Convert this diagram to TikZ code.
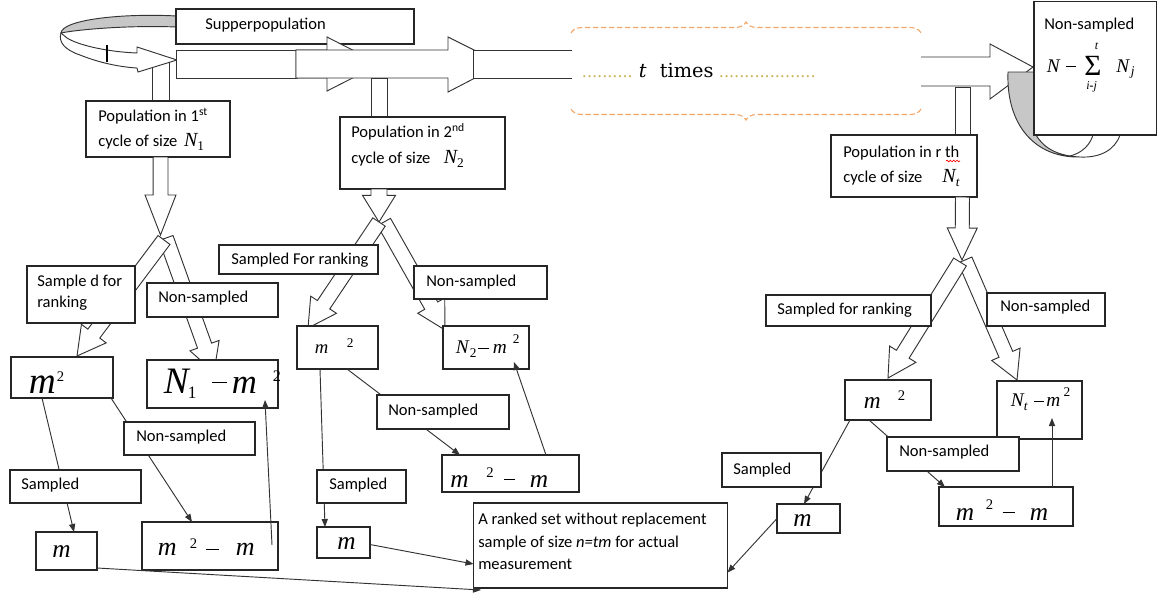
\documentclass[tikz,border=0pt]{standalone}
\usepackage{fontspec}
\setmainfont{Carlito}
\newfontfamily\tnr{Liberation Serif}
\newfontfamily\djs{DejaVu Serif}
\usetikzlibrary{fit,calc,arrows.meta,decorations.pathreplacing,decorations.pathmorphing}

\definecolor{ln}{gray}{0.2}
\definecolor{orng}{RGB}{245,165,100}
\definecolor{dotc}{RGB}{200,175,80}
\definecolor{grayf}{gray}{0.78}

\newcommand{\pc}[3]{\rlap{\kern#1\raisebox{#2}{#3}}}
\newcommand{\tit}[1]{\fontsize{#1}{#1}\selectfont\tnr\itshape}
\newcommand{\trm}[1]{\fontsize{#1}{#1}\selectfont\tnr\upshape}
\newcommand{\barrow}[5]{%
  \coordinate (bs) at #1; \coordinate (bt) at #2;
  \coordinate (bh) at ($(bt)!#5!(bs)$);
  \draw[blk] ($(bs)!#3!90:(bt)$) -- ($(bh)!#3!-90:(bs)$) -- ($(bh)!#4!-90:(bs)$) -- (bt)
    -- ($(bh)!#4!90:(bs)$) -- ($(bh)!#3!90:(bs)$) -- ($(bs)!#3!-90:(bt)$) -- cycle;}

\tikzset{
  box/.style={draw=black!85, line width=0.9pt, fill=white, inner sep=0pt, outer sep=0pt},
  lbl/.style={inner sep=0pt, anchor=base west, font=\fontsize{12.4}{14}\selectfont},
  eq/.style={inner sep=0pt, anchor=base west},
  conn/.style={draw=ln, line width=0.7pt},
  arr/.style={conn, -{Triangle[length=6pt,width=4.6pt]}},
  blk/.style={draw=ln, line width=0.7pt, fill=white, line join=miter},
  brc/.style={draw=orng, line width=0.8pt, dash pattern=on 4pt off 2pt, decorate, decoration={brace, amplitude=8.25pt}}
}

\begin{document}
\begin{tikzpicture}[x=0.75pt, y=-0.75pt]
\fill[white] (0,0) rectangle (1158,593);
\useasboundingbox (0,0) rectangle (1158,593);

% ---------- top band ----------
\draw[blk] (152,60) rectangle (169,101);
% curved arrow (top left)
\draw[blk, fill=grayf] (177,16) .. controls (120,13) and (62,20) .. (61,33) .. controls (75,30) and (125,25) .. (177,27);
\draw[blk] (61,33) .. controls (58,42) and (65,50) .. (80,55) .. controls (100,63) and (120,67) .. (137,68)
   -- (138,72) -- (177,60) -- (137,47) -- (137,53) .. controls (110,52) and (80,46) .. (67,38) -- cycle;
\draw[line width=0.9pt] (107,45) -- (107,62);

\node[box, fit={(176,9) (414,44)}] (super) {};
\node[lbl] (t-super) at (205,29) {Supperpopulation};

\draw[blk] (176,50) rectangle (297,78);
\draw[blk] (296,50) -- (327,50) -- (327,37) -- (380,64) -- (327,91) -- (327,78) -- (296,78) -- cycle;
\draw[blk] (296,50) -- (448,50) -- (448,37) -- (502,64) -- (448,92) -- (448,78) -- (296,78) -- cycle;
\draw[blk] (572,50) -- (473,50) -- (473,78) -- (572,78);
\draw[blk] (371,78) rectangle (387,117);

% t times
\draw[brc] (571,33) -- (921,33);
\draw[brc] (921,109) -- (571,109);
\node[eq] (ttimes) at (581,77) {\pc{0pt}{0pt}{\djs\fontsize{12}{12}\selectfont\color{dotc}..........}\pc{42.75pt}{0pt}{\djs\itshape\fontsize{14.5}{14.5}\selectfont t}\pc{58.5pt}{0pt}{\djs\fontsize{14.5}{14.5}\selectfont times}\pc{102.75pt}{0pt}{\djs\fontsize{12}{12}\selectfont\color{dotc}...................}};

% right arrow and U-turn
\draw[blk] (921,57) -- (990,57) -- (990,44) -- (1033,67) -- (990,99) -- (990,86) -- (921,86);
\draw[blk] (955,87) rectangle (970,135);
\draw[blk, fill=grayf] (1008,72) -- (1036,72) -- (1036,135) .. controls (1045,150) and (1060,156) .. (1080,157) .. controls (1035,158) and (1006,125) .. (1008,72) -- cycle;
\draw[conn] (1070,156) .. controls (1082,153) and (1090,145) .. (1093,135);
\draw[conn] (1080,157) .. controls (1100,158) and (1115,150) .. (1120,135);

\node[box, fit={(1034,1.5) (1156.5,135)}] (nsTR) {};
\node[lbl] (t-nsTR) at (1044,29) {Non-sampled};
\node[eq] (f-nsTR) at (1046,72) {\pc{0pt}{0pt}{\tit{14.5}N}\pc{14pt}{3.75pt}{\rule{7.5pt}{0.7pt}}\pc{28pt}{-2.25pt}{\trm{22}Σ}\pc{36pt}{17pt}{\tit{9}t}\pc{29.5pt}{-13pt}{\tit{9}i\textbf{-}j}\pc{52pt}{0pt}{\tit{14.5}N}\pc{63pt}{-2.25pt}{\tit{10}j}};

% ---------- population boxes ----------
\node[box, fit={(86,101) (230,157)}] (pop1) {};
\node[lbl] (t-pop1a) at (98,121) {Population in 1\textsuperscript{st}};
\node[lbl] (t-pop1b) at (98,146) {cycle of size\hspace{5pt}{\tit{15}N}\raisebox{-3pt}{\trm{10}1}};
\node[box, fit={(340,117) (505,189)}] (pop2) {};
\node[lbl] (t-pop2a) at (351,137) {Population in 2\textsuperscript{nd}};
\node[lbl] (t-pop2b) at (351,163) {cycle of size\hspace{10pt}{\tit{15}N}\raisebox{-3pt}{\trm{10}2}};
\node[box, fit={(831,135) (977,197)}] (popr) {};
\node[lbl] (t-popra) at (843,157) {Population in r th};
\node[lbl] (t-poprb) at (843,182) {cycle of size\hspace{15pt}{\tit{15}N}\raisebox{-3pt}{\tit{10}t}};
\draw[red, line width=0.5pt, decorate, decoration={snake, amplitude=0.6pt, segment length=2.5pt}] (946,161) -- (960,161);

% ---------- block arrows ----------
\barrow{(160.5,157)}{(160.5,235)}{5.6pt}{11.6pt}{30pt}
\barrow{(379,189)}{(379,222)}{6pt}{12.4pt}{20pt}
\barrow{(962.5,197)}{(962,260)}{5.25pt}{11.25pt}{24pt}

\barrow{(166,238)}{(214,372)}{5.6pt}{11.6pt}{21pt}
\barrow{(164,240)}{(77,356)}{5.6pt}{11.6pt}{21pt}
\barrow{(384,222)}{(445,330)}{5.6pt}{11.6pt}{21pt}
\barrow{(379,222)}{(308,328)}{5.6pt}{11.6pt}{21pt}
\barrow{(965,260)}{(1017,380)}{5.6pt}{11.6pt}{21pt}
\barrow{(960,262)}{(888,378)}{5.6pt}{11.6pt}{21pt}

% ---------- value boxes (level 1) ----------
\node[box, fit={(11,357) (113,398)}] (m2L) {};
\node[eq] (f-m2L) at (28,393) {\pc{0pt}{0pt}{\tit{28}m}\pc{21pt}{9pt}{\trm{11}2}};
\node[box, fit={(147,360) (278,408)}] (N1m2) {};
\node[eq] (f-N1m2) at (163,393) {\pc{0pt}{0pt}{\tit{28}N}\pc{18pt}{-3.75pt}{\trm{13}1}\pc{36pt}{7.5pt}{\rule{11pt}{0.9pt}}\pc{51pt}{0pt}{\tit{26}m}\pc{81.75pt}{9pt}{\trm{12}2}};
\node[box, fit={(297,326) (378,369)}] (m2M) {};
\node[eq] (f-m2M) at (314,353) {\pc{0pt}{0pt}{\tit{14}m}\pc{24pt}{4.5pt}{\trm{10}2}};
\node[box, fit={(443,326) (529,369)}] (N2m2) {};
\node[eq] (f-N2m2) at (455,353) {\pc{0pt}{0pt}{\tit{14.5}N}\pc{10.5pt}{-3pt}{\trm{10}2}\pc{16.5pt}{3.4pt}{\rule{8pt}{0.7pt}}\pc{27.75pt}{0pt}{\tit{14.5}m}\pc{42.75pt}{7.5pt}{\trm{10}2}};
\node[box, fit={(845,380) (931,420)}] (m2R) {};
\node[eq] (f-m2R) at (863,408) {\pc{0pt}{0pt}{\tit{17.5}m}\pc{25.5pt}{6pt}{\trm{11}2}};
\node[box, fit={(997,381) (1082,439)}] (Ntm2) {};
\node[eq] (f-Ntm2) at (1010,406) {\pc{0pt}{0pt}{\tit{14.5}N}\pc{9.75pt}{-3pt}{\tit{10}t}\pc{17.5pt}{3.4pt}{\rule{7pt}{0.7pt}}\pc{26.5pt}{0pt}{\tit{14.5}m}\pc{39.5pt}{7.5pt}{\trm{10}2}};

% ---------- lower boxes ----------
\node[box, fit={(36,532) (97,570)}] (mL) {};
\node[eq] (f-mL) at (52,557) {\tit{19}m};
\node[box, fit={(142,522) (278,570)}] (m2mL) {};
\node[eq] (f-m2mL) at (157,555) {\pc{0pt}{0pt}{\tit{19.5}m}\pc{24pt}{5.25pt}{\trm{11}2}\pc{36pt}{3.75pt}{\rule{9.75pt}{0.8pt}}\pc{58.5pt}{0pt}{\tit{19.5}m}};
\node[box, fit={(317,527) (370,558)}] (mM) {};
\node[eq] (f-mM) at (337,549) {\tit{19}m};
\node[box, fit={(442,455) (579,492)}] (m2mM) {};
\node[eq] (f-m2mM) at (449.5,487) {\pc{0pt}{0pt}{\tit{19}m}\pc{27pt}{7.5pt}{\trm{11}2}\pc{40pt}{5.25pt}{\rule{8.25pt}{0.8pt}}\pc{59.6pt}{0pt}{\tit{19}m}};
\node[box, fit={(777,504) (840,533)}] (mR) {};
\node[eq] (f-mR) at (793,526) {\tit{19}m};
\node[box, fit={(939,487) (1073,526)}] (m2mR) {};
\node[eq] (f-m2mR) at (955,520) {\pc{0pt}{0pt}{\tit{19}m}\pc{22.5pt}{8pt}{\trm{11}2}\pc{35pt}{5pt}{\rule{9pt}{0.8pt}}\pc{55.5pt}{0pt}{\tit{19}m}};
\node[box, fit={(473.5,503) (727.5,588)}] (big) {};
\node[lbl] (t-big1) at (478,524) {A ranked set without replacement};
\node[lbl] (t-big2) at (478,547) {sample of size \textit{n=tm} for actual};
\node[lbl] (t-big3) at (478,569) {measurement};

% ---------- thin connectors ----------
\draw[arr] ($(m2L.south west)+(31,0)$) -- ($(mL.north west)+(38,0)$);
\draw[arr] ($(m2L.south east)+(-2,0)$) -- ($(m2mL.north west)+(50,0)$);
\draw[arr] ($(m2M.south west)+(23,0)$) -- ($(mM.north west)+(8,0)$);
\draw[arr] ($(m2M.south west)+(50,0)$) -- ($(m2mM.north west)+(18,0)$);
\draw[arr] ($(m2R.south west)+(5,0)$) -- ($(mR.north west)+(27,0)$);
\draw[arr] ($(m2R.south west)+(24,0)$) -- ($(m2mR.north west)+(6,0)$);

% ---------- label boxes ----------
\node[box, fit={(27,266) (135,323)}] (sdfr) {};
\node[lbl] (t-sdfr1) at (37,286) {Sample d for};
\node[lbl] (t-sdfr2) at (37,307) {ranking};
\node[box, fit={(147,283) (278,317)}] (nsL) {};
\node[lbl] (t-nsL) at (158,302) {Non-sampled};
\node[box, fit={(219,245) (378,274)}] (sfrM) {};
\node[lbl] (t-sfrM) at (231,264) {Sampled For ranking};
\node[box, fit={(414,266) (547,299)}] (nsM) {};
\node[lbl] (t-nsM) at (426,286) {Non-sampled};
\node[box, fit={(766,295) (931,326)}] (sfrR) {};
\node[lbl] (t-sfrR) at (777,314) {Sampled for ranking};
\node[box, fit={(987,293) (1105,326)}] (nsR) {};
\node[lbl] (t-nsR) at (1000,311) {Non-sampled};
\node[box, fit={(124,422) (255,455)}] (nsLL) {};
\node[lbl] (t-nsLL) at (136,441) {Non-sampled};
\node[box, fit={(377,395) (509,429)}] (nsLM) {};
\node[lbl] (t-nsLM) at (388,415) {Non-sampled};
\node[box, fit={(887,437) (1019,471)}] (nsLR) {};
\node[lbl] (t-nsLR) at (899,456) {Non-sampled};
\node[box, fit={(10,470) (141,503)}] (sLL) {};
\node[lbl] (t-sLL) at (21,489) {Sampled};
\node[box, fit={(317,470) (406,503)}] (sM) {};
\node[lbl] (t-sM) at (329,489) {Sampled};
\node[box, fit={(722,453) (821,487)}] (sR) {};
\node[lbl] (t-sR) at (733,474) {Sampled};

% ---------- arrows drawn over boxes ----------
\draw[arr] ($(m2mL.south east)+(-6,-25)$) -- ($(N1m2.south east)+(-13,-8)$);
\draw[arr] ($(m2mM.north west)+(104,0)$) -- ($(N2m2.south west)+(71,-7)$);
\draw[arr] ($(m2mR.north west)+(113,0)$) -- ($(Ntm2.south west)+(55,-21)$);
\draw[arr] ($(mM.east)+(0,2)$) -- ($(big.south west)+(0,-24)$);
\draw[arr] ($(mL.south east)+(0,-2)$) -- ($(big.south west)+(7.5,2)$);
\draw[arr] (mR.west) -- ($(big.east)+(0,27)$);
\end{tikzpicture}
\end{document}
